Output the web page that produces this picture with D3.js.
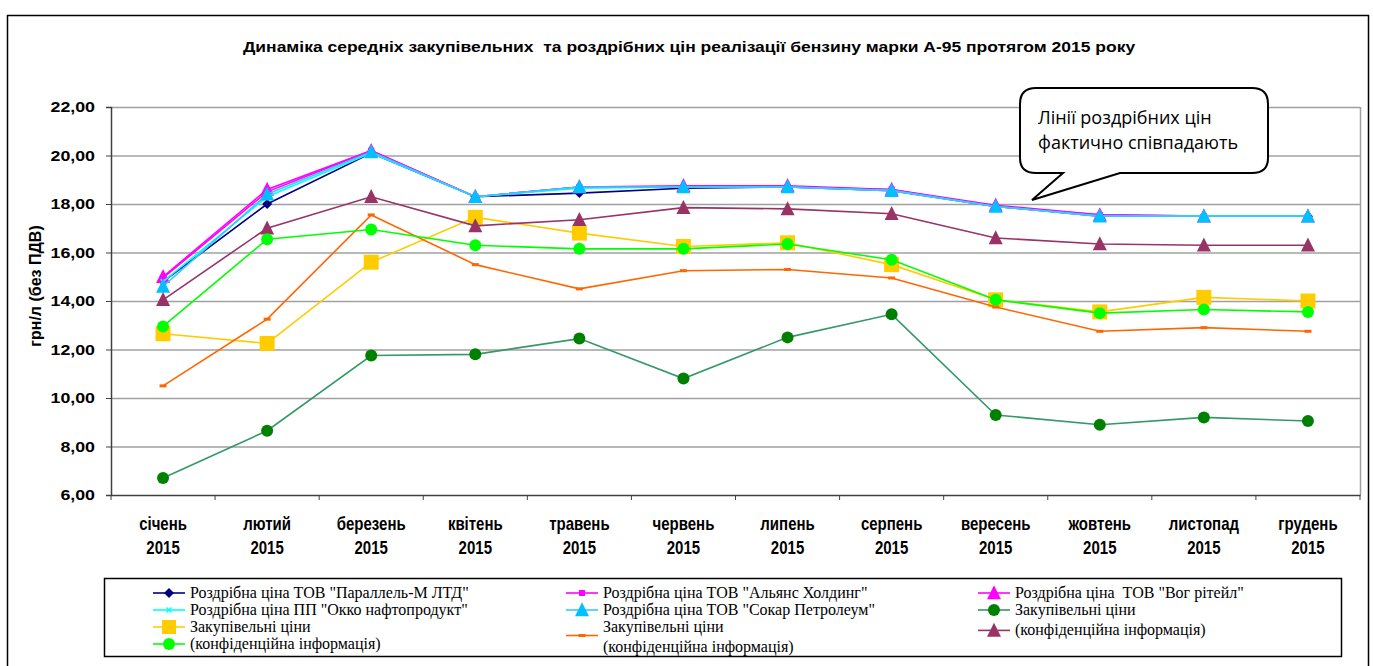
<!DOCTYPE html>
<html><head><meta charset="utf-8">
<script src="https://cdn.jsdelivr.net/npm/d3@7"></script>
<style>body{margin:0;background:#fff;} svg{display:block;} .serif{font-family:"Liberation Serif","DejaVu Serif","Noto Serif",serif;}</style>
</head><body>
<svg id="chart" width="1373" height="666"></svg>
<script>
const months = ["січень","лютий","березень","квітень","травень","червень","липень","серпень","вересень","жовтень","листопад","грудень"];
const year = "2015";
const yTicks = [6,8,10,12,14,16,18,20,22];
const parallel = [14.8,18.0,20.1,18.3,18.45,18.65,18.7,18.55,17.9,17.5,17.5,17.5];
const alliance = [14.95,18.5,20.2,18.3,18.7,18.7,18.7,18.6,17.9,17.55,17.5,17.5];
const vog      = [15.0,18.6,20.2,18.3,18.7,18.75,18.75,18.6,17.95,17.55,17.5,17.5];
const okko     = [14.8,18.3,20.1,18.3,18.65,18.7,18.7,18.55,17.9,17.5,17.5,17.5];
const socar    = [14.6,18.4,20.15,18.3,18.7,18.7,18.7,18.55,17.9,17.5,17.5,17.5];
const purchaseA = [6.7,8.65,11.75,11.8,12.45,10.8,12.5,13.45,9.3,8.9,9.2,9.05];
const purchaseB = [12.65,12.25,15.6,17.45,16.8,16.25,16.4,15.5,14.05,13.55,14.15,14.0];
const purchaseC = [10.5,13.25,17.55,15.5,14.5,15.25,15.3,14.95,13.75,12.75,12.9,12.75];
const purchaseD = [14.05,17.0,18.3,17.1,17.35,17.85,17.8,17.6,16.6,16.35,16.3,16.3];
const purchaseE = [12.95,16.55,16.95,16.3,16.15,16.15,16.35,15.7,14.05,13.5,13.65,13.55];

const series = [
  {name:'Роздрібна ціна ТОВ "Параллель-М ЛТД"', values:parallel, line:"#000080", fill:"#000080", marker:"diamond", size:5},
  {name:'Роздрібна ціна ТОВ "Альянс Холдинг"', values:alliance, line:"#FF00FF", fill:"#FF00FF", marker:"square", size:6},
  {name:'Роздрібна ціна  ТОВ "Вог рітейл"', values:vog, line:"#FF00FF", fill:"#FF00FF", marker:"triangle", size:14},
  {name:'Роздрібна ціна ПП "Окко нафтопродукт"', values:okko, line:"#00FFFF", fill:"#00FFFF", marker:"x", size:5},
  {name:'Роздрібна ціна ТОВ "Сокар Петролеум"', values:socar, line:"#33CCFF", fill:"#00C0FF", marker:"triangle", size:14},
  {name:'Закупівельні ціни', values:purchaseA, line:"#339966", fill:"#008000", marker:"circle", size:6},
  {name:'Закупівельні ціни', values:purchaseB, line:"#FFCC00", fill:"#FFCC00", marker:"square", size:15},
  {name:'Закупівельні ціни|(конфіденційна інформація)', values:purchaseC, line:"#FF6600", fill:"#FF6600", marker:"dash", size:7},
  {name:'(конфіденційна інформація)', values:purchaseD, line:"#993366", fill:"#993366", marker:"triangle", size:14},
  {name:'(конфіденційна інформація)', values:purchaseE, line:"#00FF00", fill:"#00FF00", marker:"circle", size:6}
];

const SANS = "'Liberation Sans', Arial, sans-serif";

const svg = d3.select("#chart");
const L = 111, R = 1360, T = 107, B = 495;

svg.append("rect").attr("x",7.5).attr("y",15.5).attr("width",1361).attr("height",700)
  .attr("fill","#fff").attr("stroke","#000").attr("stroke-width",1.5);

svg.append("text").attr("transform","translate(689,52) scale(1.25,1)").attr("text-anchor","middle")
  .attr("font-family",SANS).attr("font-weight","bold")
  .attr("font-size",14).attr("xml:space","preserve").style("white-space","pre")
  .text("Динаміка середніх закупівельних  та роздрібних цін реалізації бензину марки А-95 протягом 2015 року");

const x = d3.scaleBand().domain(months).range([L,R]);
const y = d3.scaleLinear().domain([6,22]).range([B,T]);

svg.append("g").selectAll("line").data(yTicks.filter(d=>d>6)).join("line")
  .attr("x1",L).attr("x2",R).attr("y1",d=>y(d)+0.5).attr("y2",d=>y(d)+0.5)
  .attr("stroke","#a0a0a0").attr("stroke-width",1.5);
svg.append("line").attr("x1",R+0.5).attr("x2",R+0.5).attr("y1",T).attr("y2",B).attr("stroke","#a0a0a0").attr("stroke-width",1.5);

const yAxis = svg.append("g").attr("transform",`translate(${L},0)`)
  .call(d3.axisLeft(y).tickValues(yTicks).tickSize(5).tickFormat(""));
yAxis.select(".domain").attr("stroke","#404040").attr("stroke-width",1.5);
yAxis.selectAll(".tick line").attr("stroke","#404040");
svg.append("g").selectAll("text").data(yTicks).join("text")
  .attr("transform",d=>`translate(${L-16},${y(d)+5}) scale(1.27,1)`).attr("text-anchor","end")
  .attr("font-family",SANS).attr("font-weight","bold").attr("font-size",14)
  .text(d=>d3.format(".2f")(d).replace(".",","));

const xAxis = svg.append("g").attr("transform",`translate(0,${B})`)
  .call(d3.axisBottom(x).tickSize(0).tickFormat(""));
xAxis.select(".domain").attr("stroke","#404040").attr("stroke-width",1.5);
svg.append("g").selectAll("line").data(d3.range(months.length+1)).join("line")
  .attr("x1",i=>L+i*x.step()).attr("x2",i=>L+i*x.step()).attr("y1",B).attr("y2",B+5).attr("stroke","#404040");
const xg = svg.append("g").selectAll("g").data(months).join("g")
  .attr("transform",d=>`translate(${x(d)+x.bandwidth()/2},0)`);
xg.append("text").attr("transform","translate(0,530) scale(1,1.25)").attr("text-anchor","middle")
  .attr("font-family",SANS).attr("font-weight","bold").attr("font-size",15).text(d=>d);
xg.append("text").attr("transform","translate(0,554) scale(1,1.25)").attr("text-anchor","middle")
  .attr("font-family",SANS).attr("font-weight","bold").attr("font-size",15).text(year);

svg.append("text").attr("transform","translate(41,286) rotate(-90)").attr("text-anchor","middle")
  .attr("font-family",SANS).attr("font-weight","bold").attr("font-size",16)
  .text("грн/л (без ПДВ)");

function drawMarker(g, type, size, fill){
  if(type==="circle") g.append("circle").attr("r",size).attr("fill",fill);
  else if(type==="square") g.append("rect").attr("x",-size/2).attr("y",-size/2).attr("width",size).attr("height",size).attr("fill",fill);
  else if(type==="diamond") g.append("path").attr("d",`M0,${-size}L${size},0L0,${size}L${-size},0Z`).attr("fill",fill);
  else if(type==="triangle") g.append("path").attr("d",`M0,${-size*0.55}L${size/2},${size*0.45}L${-size/2},${size*0.45}Z`).attr("fill",fill);
  else if(type==="x") g.append("path").attr("d",`M${-size/2},${-size/2}L${size/2},${size/2}M${size/2},${-size/2}L${-size/2},${size/2}`).attr("stroke",fill).attr("stroke-width",1.5);
  else if(type==="dash") g.append("rect").attr("x",-size/2).attr("y",-1.5).attr("width",size).attr("height",3).attr("fill",fill);
}

const line = d3.line().x((d,i)=>x(months[i])+x.bandwidth()/2).y(d=>y(d));
series.forEach(s=>{
  const g = svg.append("g");
  g.append("path").attr("d",line(s.values)).attr("fill","none").attr("stroke",s.line).attr("stroke-width",1.6);
  s.values.forEach((v,i)=>{
    const m = g.append("g").attr("transform",`translate(${x(months[i])+x.bandwidth()/2},${y(v)})`);
    drawMarker(m, s.marker, s.size, s.fill);
  });
});

svg.append("rect").attr("x",104.5).attr("y",578.5).attr("width",1237).attr("height",78)
  .attr("fill","#fff").attr("stroke","#000").attr("stroke-width",1.5);
const legendPos = [
  {c:0,r:0,s:0},{c:1,r:0,s:1},{c:2,r:0,s:2},
  {c:0,r:1,s:3},{c:1,r:1,s:4},{c:2,r:1,s:5},
  {c:0,r:2,s:6},{c:1,r:2.5,s:7},{c:2,r:2.2,s:8},
  {c:0,r:3,s:9}
];
const colX = [153,566,978];
const rowY = r=>593+r*17;
legendPos.forEach(p=>{
  const s = series[p.s];
  const cx = colX[p.c], cy = rowY(p.r);
  const g = svg.append("g");
  g.append("line").attr("x1",cx).attr("x2",cx+32).attr("y1",cy).attr("y2",cy).attr("stroke",s.line).attr("stroke-width",1.6);
  const m = g.append("g").attr("transform",`translate(${cx+16},${cy})`);
  const sz = s.marker==="circle"?6 : (s.marker==="square"&&s.size>10?14 : s.size);
  drawMarker(m, s.marker, sz, s.fill);
  const lines = s.name.split("|");
  const t = g.append("text").attr("class","serif").style("font-size","16px")
    .attr("xml:space","preserve").style("white-space","pre");
  lines.forEach((ln,k)=>{
    t.append("tspan").attr("x",cx+37).attr("y",cy+5+k*20 - (lines.length>1?9:0)).text(ln);
  });
});

const co = svg.append("g");
co.append("path").attr("d","M1036,88 L1252,88 Q1268,88 1268,104 L1268,158 Q1268,173 1252,173 L1120,173 L1032,200 L1063,173 L1036,173 Q1020,173 1020,158 L1020,104 Q1020,88 1036,88 Z")
  .attr("fill","#fff").attr("stroke","#000").attr("stroke-width",2);
co.append("text").attr("font-family","'Open Sans', 'Noto Sans', sans-serif").attr("font-size",18).attr("fill","#000")
  .selectAll("tspan").data(["Лінії роздрібних цін","фактично співпадають"]).join("tspan")
  .attr("x",1038).attr("y",(d,i)=>124+i*25).text(d=>d);
</script>
</body></html>
